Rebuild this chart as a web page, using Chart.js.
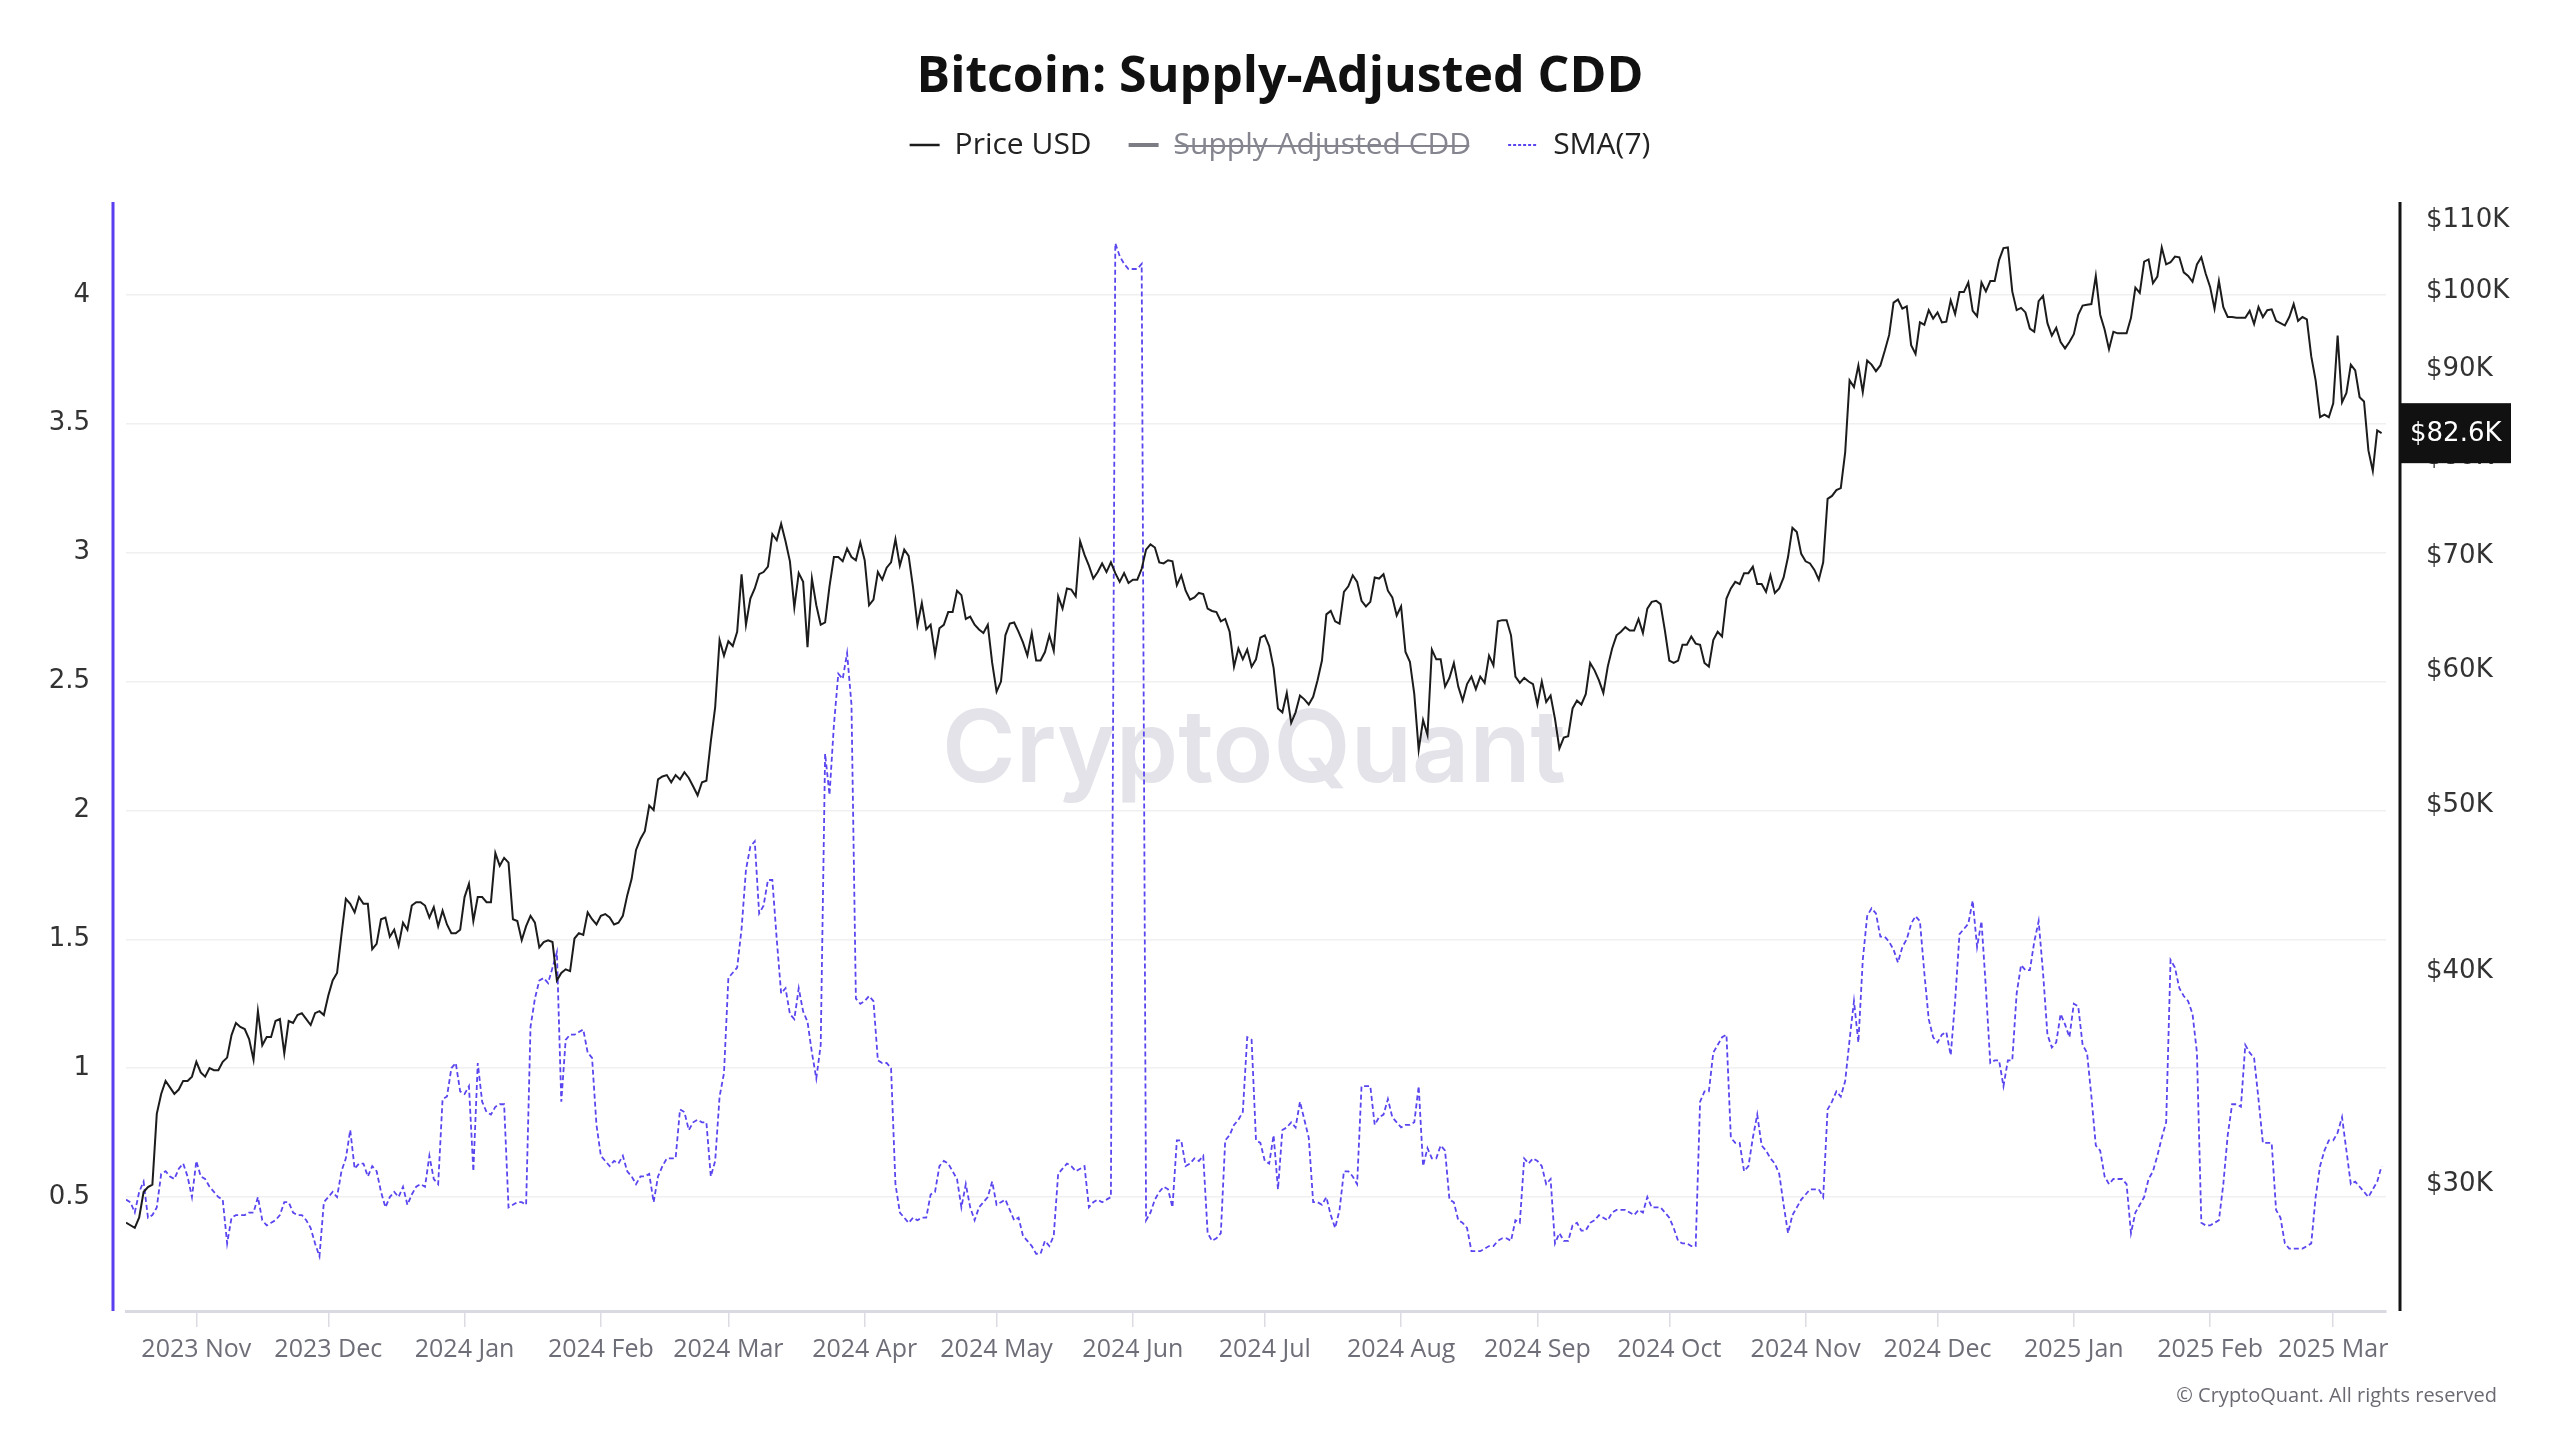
<!DOCTYPE html>
<html>
<head>
<meta charset="utf-8">
<title>Bitcoin: Supply-Adjusted CDD</title>
<script src="https://cdn.jsdelivr.net/npm/chart.js@4.4.1/dist/chart.umd.min.js"></script>
<style>
  html, body { margin: 0; padding: 0; background: #ffffff; }
  #wrap { width: 2560px; height: 1440px; }
</style>
</head>
<body>
<div id="wrap"><canvas id="myChart" width="2560" height="1440"></canvas></div>
<script>
// one value per day, from 2023-10-16 (index 0) to 2025-03-12 (index 513)

// Price USD, in thousands of dollars
var priceUsd = [
  // 2023 Oct 16-31
  28.5,28.4,28.3,28.7,29.7,29.9,30.0,33.0,33.9,34.5,34.2,33.9,34.1,34.5,34.5,34.7,
  // 2023 Nov
  35.4,34.9,34.7,35.1,35.0,35.0,35.4,35.6,36.7,37.3,37.1,37.0,36.5,35.5,37.9,36.2,36.6,36.6,37.4,37.5,35.8,37.4,37.3,37.7,37.8,37.5,37.2,37.8,37.9,37.7,
  // 2023 Dec
  38.7,39.5,39.9,42.0,44.1,43.8,43.3,44.2,43.8,43.8,41.2,41.5,42.9,43.0,41.9,42.3,41.4,42.7,42.3,43.7,43.9,43.9,43.7,43.0,43.6,42.5,43.4,42.6,42.1,42.1,42.3,
  // 2024 Jan
  44.2,45.0,42.8,44.2,44.2,43.9,43.9,46.9,46.1,46.6,46.3,42.9,42.8,41.7,42.5,43.1,42.7,41.3,41.6,41.7,41.6,39.5,39.9,40.1,40.0,41.8,42.1,42.0,43.3,42.9,42.6,
  // 2024 Feb
  43.1,43.2,43.0,42.6,42.7,43.1,44.3,45.3,47.1,47.8,48.3,50.0,49.7,51.8,52.0,52.1,51.6,52.1,51.8,52.3,51.9,51.3,50.7,51.6,51.7,54.5,57.1,62.5,61.2,
  // 2024 Mar
  62.4,62.0,63.2,68.3,63.8,66.1,67.0,68.3,68.5,69.0,72.1,71.5,73.1,71.4,69.5,65.3,68.4,67.6,61.9,67.9,65.5,63.8,64.0,67.2,69.9,69.9,69.5,70.7,69.9,69.6,71.3,
  // 2024 Apr
  69.6,65.5,66.0,68.5,67.8,68.9,69.4,71.6,69.1,70.6,70.0,67.1,63.8,65.7,63.4,63.8,61.3,63.5,63.8,64.9,64.9,66.8,66.4,64.3,64.5,63.8,63.4,63.1,63.8,60.6,
  // 2024 May
  58.3,59.1,62.9,63.9,64.0,63.2,62.3,61.2,63.1,60.8,60.8,61.5,62.9,61.6,66.3,65.2,67.0,66.9,66.3,71.4,70.1,69.1,67.9,68.5,69.3,68.5,69.4,68.4,67.6,68.4,67.5,
  // 2024 Jun
  67.8,67.8,68.8,70.6,71.1,70.8,69.4,69.3,69.6,69.5,67.3,68.2,66.8,66.0,66.2,66.6,66.5,65.2,65.0,64.9,64.1,64.3,63.2,60.3,61.8,60.9,61.7,60.3,60.9,62.7,
  // 2024 Jul
  62.9,62.0,60.2,57.0,56.7,58.2,55.9,56.7,58.0,57.7,57.3,57.9,59.2,60.8,64.7,65.0,64.1,63.9,66.7,67.2,68.2,67.6,65.9,65.4,65.8,68.0,67.9,68.3,66.8,66.2,64.6,
  // 2024 Aug
  65.4,61.5,60.7,58.1,53.9,56.1,55.0,61.7,60.9,60.9,58.7,59.4,60.6,58.7,57.6,58.9,59.5,58.5,59.5,59.0,61.2,60.4,64.1,64.2,64.2,62.9,59.5,59.0,59.4,59.1,58.9,
  // 2024 Sep
  57.3,59.1,57.5,58.0,56.2,54.0,54.8,54.9,57.0,57.6,57.3,58.1,60.6,60.0,59.2,58.2,60.3,61.8,62.9,63.2,63.6,63.3,63.3,64.3,63.1,65.2,65.8,65.9,65.6,63.3,
  // 2024 Oct
  60.8,60.6,60.8,62.1,62.1,62.8,62.2,62.1,60.6,60.3,62.5,63.2,62.8,66.1,67.0,67.6,67.4,68.4,68.4,69.0,67.4,67.4,66.7,68.2,66.6,67.0,68.0,69.9,72.7,72.3,70.2,
  // 2024 Nov
  69.5,69.3,68.7,67.8,69.4,75.6,75.9,76.5,76.7,80.5,88.7,87.9,90.5,87.3,91.1,90.6,89.8,90.5,92.3,94.3,98.5,98.9,97.7,98.0,93.0,91.9,95.9,95.6,97.5,96.4,
  // 2024 Dec
  97.2,95.9,96.0,98.8,97.0,99.9,99.9,101.2,97.4,96.7,101.2,100.0,101.4,101.4,104.3,106.0,106.1,100.0,97.5,97.8,97.2,95.1,94.7,98.7,99.4,95.8,94.2,95.2,93.4,92.6,93.4,
  // 2025 Jan
  94.4,96.9,98.1,98.2,98.3,102.1,96.9,95.0,92.5,94.7,94.5,94.5,94.5,96.5,100.5,99.8,104.1,104.4,101.1,102.0,106.1,103.7,104.0,104.8,104.7,102.6,102.1,101.3,103.7,104.7,102.4,
  // 2025 Feb
  100.6,97.7,101.4,97.9,96.6,96.6,96.5,96.5,96.5,97.4,95.7,97.9,96.6,97.5,97.6,96.1,95.8,95.5,96.6,98.3,96.1,96.6,96.3,91.6,88.7,84.4,84.7,84.4,
  // 2025 Mar 1-12
  86.0,94.2,86.1,87.2,90.6,89.9,86.7,86.2,80.7,78.5,82.9,82.6
];

// SMA(7) of Supply-Adjusted CDD
var sma7 = [
  0.49,0.48,0.44,0.52,0.56,0.42,0.43,0.46,0.59,0.60,
  0.58,0.57,0.61,0.63,0.58,0.50,0.64,0.58,0.57,0.54,
  0.52,0.50,0.49,0.32,0.42,0.43,0.43,0.43,0.44,0.44,
  0.50,0.41,0.39,0.40,0.41,0.43,0.48,0.48,0.44,0.43,
  0.43,0.41,0.38,0.32,0.27,0.48,0.50,0.52,0.50,0.60,
  0.65,0.76,0.61,0.63,0.63,0.58,0.62,0.60,0.52,0.46,
  0.50,0.52,0.50,0.54,0.47,0.51,0.54,0.55,0.54,0.66,
  0.57,0.55,0.88,0.89,1.00,1.02,0.91,0.90,0.93,0.60,
  1.02,0.87,0.83,0.82,0.85,0.86,0.86,0.46,0.47,0.48,
  0.48,0.47,1.16,1.27,1.34,1.35,1.33,1.39,1.45,0.87,
  1.11,1.13,1.13,1.14,1.15,1.06,1.04,0.78,0.66,0.64,
  0.62,0.64,0.63,0.66,0.60,0.58,0.55,0.58,0.58,0.59,
  0.48,0.58,0.62,0.65,0.65,0.65,0.84,0.83,0.76,0.79,
  0.80,0.79,0.79,0.58,0.64,0.89,0.98,1.35,1.37,1.39,
  1.54,1.77,1.86,1.88,1.60,1.63,1.73,1.73,1.50,1.29,
  1.31,1.21,1.19,1.31,1.22,1.18,1.06,0.96,1.09,2.22,
  2.06,2.33,2.53,2.51,2.61,2.41,1.27,1.25,1.26,1.28,
  1.26,1.03,1.02,1.02,1.00,0.55,0.44,0.42,0.40,0.42,
  0.41,0.42,0.42,0.51,0.52,0.62,0.64,0.63,0.60,0.57,
  0.46,0.55,0.46,0.41,0.46,0.48,0.50,0.56,0.47,0.48,
  0.49,0.45,0.41,0.42,0.35,0.33,0.31,0.28,0.28,0.33,
  0.31,0.35,0.59,0.61,0.63,0.62,0.60,0.61,0.62,0.46,
  0.48,0.49,0.48,0.49,0.50,4.20,4.15,4.12,4.10,4.10,
  4.10,4.12,0.41,0.44,0.49,0.52,0.54,0.53,0.46,0.72,
  0.72,0.62,0.63,0.65,0.64,0.66,0.36,0.33,0.34,0.36,
  0.72,0.74,0.78,0.80,0.83,1.12,1.11,0.72,0.71,0.64,
  0.63,0.74,0.53,0.76,0.77,0.79,0.77,0.87,0.80,0.73,
  0.48,0.48,0.47,0.50,0.43,0.38,0.45,0.60,0.60,0.58,
  0.55,0.93,0.93,0.93,0.78,0.81,0.82,0.88,0.81,0.79,
  0.77,0.78,0.78,0.79,0.93,0.62,0.69,0.65,0.65,0.70,
  0.68,0.49,0.48,0.41,0.40,0.38,0.29,0.29,0.29,0.30,
  0.31,0.31,0.33,0.34,0.34,0.33,0.41,0.40,0.65,0.63,
  0.65,0.64,0.62,0.55,0.57,0.32,0.36,0.33,0.33,0.39,
  0.40,0.37,0.37,0.40,0.41,0.43,0.42,0.41,0.44,0.45,
  0.45,0.45,0.44,0.43,0.45,0.44,0.50,0.46,0.46,0.46,
  0.44,0.42,0.38,0.33,0.32,0.32,0.31,0.31,0.87,0.91,
  0.91,1.06,1.09,1.12,1.13,0.73,0.71,0.71,0.60,0.62,
  0.73,0.82,0.70,0.68,0.65,0.63,0.59,0.47,0.36,0.43,
  0.46,0.49,0.51,0.53,0.53,0.53,0.50,0.84,0.87,0.91,
  0.89,0.95,1.11,1.26,1.10,1.42,1.59,1.62,1.60,1.51,
  1.51,1.49,1.46,1.41,1.47,1.50,1.56,1.59,1.57,1.37,
  1.19,1.12,1.10,1.13,1.14,1.05,1.26,1.52,1.54,1.56,
  1.65,1.47,1.57,1.31,1.02,1.03,1.03,0.93,1.03,1.03,
  1.29,1.40,1.38,1.38,1.49,1.57,1.37,1.13,1.08,1.10,
  1.21,1.17,1.12,1.25,1.24,1.09,1.06,0.89,0.70,0.68,
  0.58,0.55,0.57,0.57,0.57,0.55,0.36,0.44,0.47,0.50,
  0.57,0.60,0.66,0.73,0.79,1.42,1.39,1.31,1.28,1.26,
  1.21,1.06,0.40,0.39,0.39,0.40,0.41,0.55,0.74,0.86,
  0.86,0.85,1.09,1.06,1.04,0.88,0.71,0.71,0.71,0.45,
  0.42,0.32,0.30,0.30,0.30,0.30,0.31,0.32,0.50,0.62,
  0.68,0.72,0.72,0.75,0.81,0.68,0.55,0.56,0.54,0.52,
  0.50,0.53,0.56,0.62
];

// month ticks on the x axis (day index of the 1st of each month)
var monthTickIdx = [16, 46, 77, 108, 137, 168, 198, 229, 259, 290, 321, 351, 382, 412, 443, 474, 502];
var monthTickLabels = ['2023 Nov', '2023 Dec', '2024 Jan', '2024 Feb', '2024 Mar', '2024 Apr', '2024 May', '2024 Jun',
  '2024 Jul', '2024 Aug', '2024 Sep', '2024 Oct', '2024 Nov', '2024 Dec', '2025 Jan', '2025 Feb', '2025 Mar'];

// right axis ticks, thousands of USD
var priceTicks = [30, 40, 50, 60, 70, 80, 90, 100, 110];

var pricePoints = priceUsd.map(function (v, i) { return { x: i, y: v }; });
var smaPoints = sma7.map(function (v, i) { return { x: i, y: v }; });

// lignes des axes, decalees du bord de la zone de trace
var axisLines = {
  id: 'axisLines',
  afterDraw: function (chart) {
    var c = chart.ctx, a = chart.chartArea;
    c.save();
    c.lineWidth = 3;
    c.strokeStyle = '#5a3ff0';
    c.beginPath(); c.moveTo(a.left - 13, a.top); c.lineTo(a.left - 13, a.bottom); c.stroke();
    c.strokeStyle = '#141414';
    c.beginPath(); c.moveTo(a.right + 14, a.top); c.lineTo(a.right + 14, a.bottom); c.stroke();
    c.restore();
  }
};

// filigrane
var watermark = {
  id: 'watermark',
  beforeDatasetsDraw: function (chart) {
    var c = chart.ctx;
    c.save();
    c.font = '600 100px Inter';
    c.fillStyle = '#e3e3e9';
    c.textAlign = 'center';
    c.textBaseline = 'middle';
    c.fillText('CryptoQuant', 1254, 752);
    c.restore();
  }
};

// etiquette du dernier prix + copyright
var lastPrice = {
  id: 'lastPrice',
  afterDraw: function (chart) {
    var c = chart.ctx, a = chart.chartArea;
    var last = priceUsd[priceUsd.length - 1];
    var y = chart.scales.yPrice.getPixelForValue(last);
    c.save();
    c.fillStyle = '#111111';
    c.fillRect(a.right + 14, y - 30, 111, 60);
    c.fillStyle = '#ffffff';
    c.font = '26px "DejaVu Sans"';
    c.textAlign = 'left';
    c.textBaseline = 'middle';
    c.fillText('$' + last.toFixed(1) + 'K', a.right + 24, y + 1);
    c.font = '20px "Open Sans"';
    c.fillStyle = '#6a6a72';
    c.textAlign = 'right';
    c.fillText('\u00A9 CryptoQuant. All rights reserved', 2497, 1396);
    c.restore();
  }
};

const ctx = document.getElementById('myChart');
new Chart(ctx, {
  type: 'line',
  data: {
    datasets: [
      {
        label: 'Price USD',
        data: pricePoints,
        yAxisID: 'yPrice',
        borderColor: '#1c1c1c',
        borderWidth: 2,
        pointRadius: 0,
        tension: 0
      },
      {
        label: 'Supply-Adjusted CDD',
        data: [],
        yAxisID: 'yCdd',
        borderColor: '#7c7c84',
        borderWidth: 3,
        pointRadius: 0,
        hidden: true
      },
      {
        label: 'SMA(7)',
        data: smaPoints,
        yAxisID: 'yCdd',
        borderColor: '#5a46ef',
        borderWidth: 1.8,
        borderDash: [5, 3],
        pointRadius: 0,
        tension: 0
      }
    ]
  },
  options: {
    responsive: false,
    animation: false,
    devicePixelRatio: 1,
    layout: { padding: 0 },
    plugins: {
      title: {
        display: true,
        text: 'Bitcoin: Supply-Adjusted CDD',
        color: '#111111',
        font: { family: 'Open Sans', size: 50, weight: 'bold', lineHeight: 0.6 },
        padding: { top: 63, bottom: 0 }
      },
      subtitle: {
        // sert seulement d'espace entre la legende et le graphique
        display: true,
        text: '',
        weight: 500,
        font: { size: 2, lineHeight: 1 },
        padding: { top: 0, bottom: 30 }
      },
      legend: {
        display: true,
        position: 'top',
        labels: {
          font: { family: 'Open Sans', size: 30 },
          color: '#222222',
          usePointStyle: true,
          pointStyle: 'line',
          pointStyleWidth: 30,
          padding: 37,
          generateLabels: function (chart) {
            var items = Chart.defaults.plugins.legend.labels.generateLabels(chart);
            items.forEach(function (it) {
              it.fontColor = it.hidden ? '#85858f' : '#222222';
              it.lineWidth = it.datasetIndex === 2 ? 2 : (it.hidden ? 4 : 2.5);
              if (it.datasetIndex === 2) { it.lineDash = [3, 2]; }
            });
            return items;
          }
        }
      },
      tooltip: { enabled: false }
    },
    scales: {
      x: {
        type: 'linear',
        min: 0,
        max: 514,
        afterFit: function (s) { s.height = 129; },
        afterBuildTicks: function (s) {
          s.ticks = monthTickIdx.map(function (v) { return { value: v }; });
        },
        border: { display: true, color: '#d9d9e1', width: 3 },
        grid: { drawOnChartArea: false, drawTicks: true, tickLength: 16, color: '#dcdce3', lineWidth: 1.5 },
        ticks: {
          autoSkip: false,
          maxRotation: 0,
          padding: 8,
          color: '#6e6e78',
          font: { family: 'Open Sans', size: 25 },
          callback: function (v, i) { return monthTickLabels[i]; }
        }
      },
      yCdd: {
        type: 'linear',
        position: 'left',
        min: 0.058,
        max: 4.36,
        afterFit: function (s) { s.width = 126; },
        border: { display: false },
        grid: { color: '#f0f0f2', lineWidth: 1.5, drawTicks: false },
        ticks: {
          stepSize: 0.5,
          includeBounds: false,
          padding: 36,
          color: '#333333',
          font: { family: 'DejaVu Sans', size: 26 },
          callback: function (v) { return String(v); }
        }
      },
      yPrice: {
        type: 'logarithmic',
        position: 'right',
        min: 25.3,
        max: 112.8,
        afterFit: function (s) { s.width = 174; },
        afterBuildTicks: function (s) {
          s.ticks = priceTicks.map(function (v) { return { value: v }; });
        },
        border: { display: false },
        grid: { display: false, drawTicks: false },
        ticks: {
          padding: 40,
          color: '#333333',
          font: { family: 'DejaVu Sans', size: 26 },
          callback: function (v) { return '$' + v + 'K'; }
        }
      }
    }
  },
  plugins: [watermark, axisLines, lastPrice]
});
</script>
</body>
</html>
